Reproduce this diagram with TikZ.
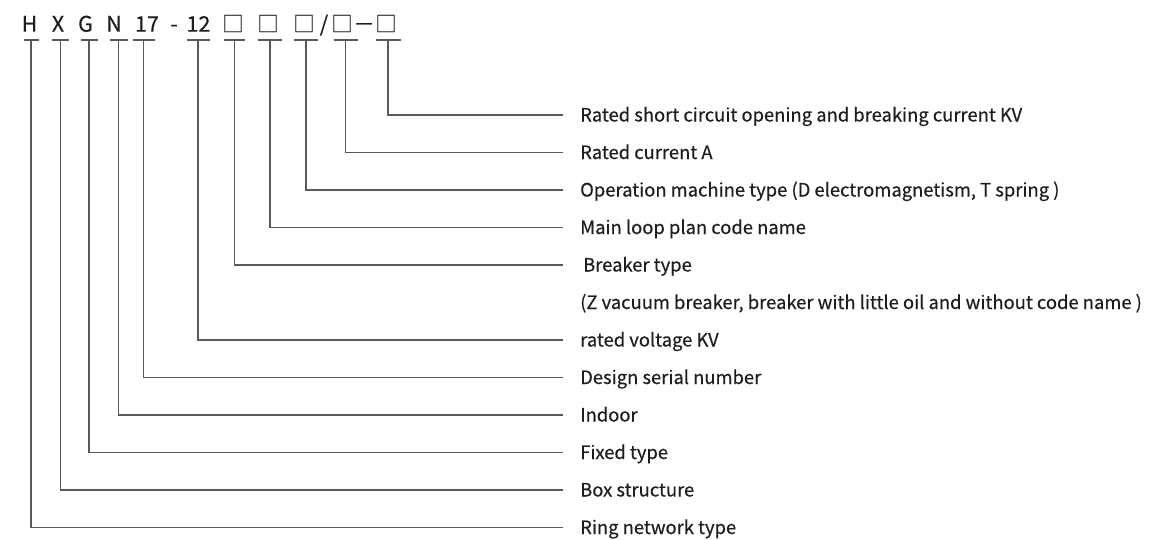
\documentclass[tikz,border=0pt]{standalone}
\usepackage{fontspec}
\usepackage{graphicx}
\setmainfont{Noto Sans CJK SC}[FakeBold=0.35]
\definecolor{txt}{HTML}{1E1E1E}
\definecolor{ln}{HTML}{5A5A5A}
\tikzset{
  x=1pt, y=1pt,
  code/.style={font=\fontsize{21.5}{23}\selectfont, text=txt, anchor=base, inner sep=0pt},
  lbl/.style={font=\fontsize{18.4}{20}\selectfont, text=txt, anchor=west, inner xsep=17pt, inner ysep=0pt, text height=13pt, text depth=0pt},
  conn/.style={draw=ln, line width=1.2pt},
}
\begin{document}
\begin{tikzpicture}
\useasboundingbox[fill=white] (0,0) rectangle (1170,-539);
% code characters
\node[code] (H) at (29.5,-31.7) {H};
\node[code] (X) at (58,-31.7) {X};
\node[code] (G) at (85.5,-31.7) {G};
\node[code] (N) at (114,-31.7) {N};
\node[code] (n17) at (147,-31.7) {17};
\node[code] (dash) at (174,-31.7) {-};
\node[code] (n12) at (198.5,-31.7) {12};
\node[code] (b1) at (233,-31.7) {□};
\node[code] (b2) at (268,-31.7) {□};
\node[code] (b3) at (304,-31.7) {□};
\node[code] (slash) at (324,-31.7) {/};
\node[code] (b4) at (342,-31.7) {□};
\node[code] (minus) at (364,-31.7) {\scalebox{1.5}[1]{−}};
\node[code] (b5) at (386,-31.7) {□};
% tee tops
\coordinate (tH) at (31,-40);
\coordinate (tX) at (60.5,-40);
\coordinate (tG) at (89,-40);
\coordinate (tN) at (118.5,-40);
\coordinate (t17) at (143.5,-40);
\coordinate (t12) at (198,-40);
\coordinate (tb1) at (234.5,-40);
\coordinate (tb2) at (270,-40);
\coordinate (tb3) at (306,-40);
\coordinate (tb4) at (345.5,-40);
\coordinate (tb5) at (388,-40);
% labels
\node[lbl] (lb5) at (563,-115) {Rated short circuit opening and breaking current KV};
\node[lbl] (lb4) at (563,-152.5) {Rated current A};
\node[lbl] (lb3) at (563,-190) {Operation machine type (D electromagnetism, T spring )};
\node[lbl] (lb2) at (563,-227.5) {Main loop plan code name};
\node[lbl] (lb1) at (563,-265) {\hspace{3pt}Breaker type};
\node[lbl, inner xsep=0pt] (lz) at (580,-302.5) {(Z vacuum breaker, breaker with little oil and without code name )};
\node[lbl] (l12) at (563,-340) {rated voltage KV};
\node[lbl] (l17) at (563,-377.5) {Design serial number};
\node[lbl] (lN) at (563,-415) {Indoor};
\node[lbl] (lG) at (563,-452.5) {Fixed type};
\node[lbl] (lX) at (563,-490) {Box structure};
\node[lbl] (lH) at (563,-527.5) {Ring network type};
% tee bars
\foreach \c/\w in {tH/7.5,tX/8.5,tG/8.5,tN/9,t17/11,t12/11.5,tb1/10.5,tb2/12,tb3/12,tb4/12,tb5/12.5}
  \draw[conn] ([xshift=-\w pt]\c) -- ([xshift=\w pt]\c);
% connectors
\draw[conn] (tb5) |- (lb5.west);
\draw[conn] (tb4) |- (lb4.west);
\draw[conn] (tb3) |- (lb3.west);
\draw[conn] (tb2) |- (lb2.west);
\draw[conn] (tb1) |- (lb1.west);
\draw[conn] (t12) |- (l12.west);
\draw[conn] (t17) |- (l17.west);
\draw[conn] (tN) |- (lN.west);
\draw[conn] (tG) |- (lG.west);
\draw[conn] (tX) |- (lX.west);
\draw[conn] (tH) |- (lH.west);
\end{tikzpicture}
\end{document}
